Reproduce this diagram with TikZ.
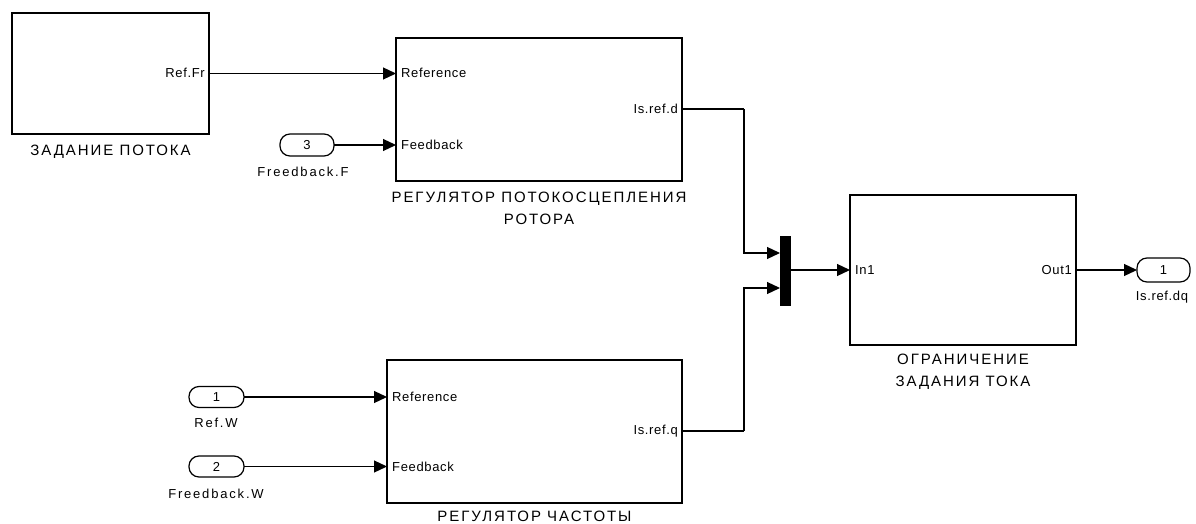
\documentclass[tikz,border=0pt]{standalone}
\usepackage{fontspec}
\setmainfont{Liberation Sans}
\newfontfamily\portfont[LetterSpace=5]{Liberation Sans}
\newfontfamily\widefont[LetterSpace=14]{Liberation Sans}
\newfontfamily\namefont[LetterSpace=13]{Liberation Sans}
\usetikzlibrary{arrows.meta}
\tikzset{
  blk/.style={draw, line width=1.2pt, inner sep=0pt, outer sep=0pt},
  inport/.style={draw, line width=1.2pt, rounded corners=10pt, inner sep=0pt, outer sep=0pt, font=\portfont\fontsize{13}{13}\selectfont},
  muxbar/.style={draw, fill=black, line width=1pt, inner sep=0pt, outer sep=0pt, minimum width=10pt, minimum height=69pt},
  plabel/.style={inner sep=0pt, font=\portfont\fontsize{13}{13}\selectfont},
  pname/.style={inner sep=0pt, font=\widefont\fontsize{13}{13}\selectfont},
  blabel/.style={inner sep=0pt, align=center, font=\namefont\fontsize{15}{22}\selectfont},
  conn/.style={line width=1.2pt, -{Triangle[length=13pt,width=12pt]}},
  wire/.style={line width=1.2pt}
}
\begin{document}
\begin{tikzpicture}[x=1pt,y=-1pt]
\useasboundingbox (0,0) rectangle (1196,524);
% blocks
\node[blk, minimum width=197pt, minimum height=121pt] (b1) at (110.5,73.5) {};
\node[blk, minimum width=286pt, minimum height=143pt] (b2) at (539,109.5) {};
\node[blk, minimum width=295pt, minimum height=143pt] (b3) at (534.5,431.5) {};
\node[blk, minimum width=226pt, minimum height=150pt] (b4) at (963,270) {};
\node[muxbar] (mux) at (785,270.5) {};
% ports
\node[inport, minimum width=54pt, minimum height=22pt] (in3) at (307,145) {3};
\node[inport, minimum width=55pt, minimum height=21pt] (in1) at (216.5,397) {1};
\node[inport, minimum width=55pt, minimum height=21pt] (in2) at (216.5,466.5) {2};
\node[inport, minimum width=53pt, minimum height=24pt] (out1) at (1163.5,270) {1};
% port labels inside blocks
\node[plabel, anchor=east] (p1) at (205,73) {Ref.Fr};
\node[plabel, anchor=west] (p2) at (401,73) {Reference};
\node[plabel, anchor=west] (p3) at (401,145) {Feedback};
\node[plabel, anchor=east] (p4) at (678,109) {Is.ref.d};
\node[plabel, anchor=west] (p5) at (392,397) {Reference};
\node[plabel, anchor=west] (p6) at (392,466.5) {Feedback};
\node[plabel, anchor=east] (p7) at (678,431) {Is.ref.q};
\node[plabel, anchor=west] (p8) at (855,270) {In1};
\node[plabel, anchor=east] (p9) at (1072,270) {Out1};
% port names
\node[pname] (n3) at (303,172) {Freedback.F};
\node[pname] (n1) at (216,423) {Ref.W};
\node[pname] (n2) at (216,494) {Freedback.W};
\node[plabel] (no) at (1162,297) {Is.ref.dq};
% block names
\node[blabel] (l1) at (110.5,152) {ЗАДАНИЕ ПОТОКА};
\node[blabel] (l2) at (539,208) {РЕГУЛЯТОР ПОТОКОСЦЕПЛЕНИЯ\\РОТОРА};
\node[blabel] (l3) at (534.5,516) {РЕГУЛЯТОР ЧАСТОТЫ};
\node[blabel] (l4) at (963,371.5) {ОГРАНИЧЕНИЕ\\ЗАДАНИЯ ТОКА};
% connection points
\coordinate (b2r) at (396,73);
\coordinate (b2f) at (396,145);
\coordinate (b2o) at (682,109);
\coordinate (b3r) at (387,397);
\coordinate (b3f) at (387,466.5);
\coordinate (b3o) at (682,431);
\coordinate (m1) at (780,253);
\coordinate (m2) at (780,288);
\coordinate (j1) at (744,109);
\coordinate (j2) at (744,431);
% connectors
\draw[conn] (b1.east) -- (b1.east -| b2r);
\draw[conn] (in3.east) -- (b2f);
\draw[conn] (in1.east) -- (b3r);
\draw[conn] (in2.east) -- (b3f);
\draw[wire] (b2o) -- (j1);
\draw[conn] (j1) -- (j1 |- m1) -- (m1);
\draw[wire] (b3o) -- (j2);
\draw[conn] (j2) -- (j2 |- m2) -- (m2);
\draw[conn] (mux.east |- b4.west) -- (b4.west);
\draw[conn] (b4.east) -- (out1.west);
\end{tikzpicture}
\end{document}
